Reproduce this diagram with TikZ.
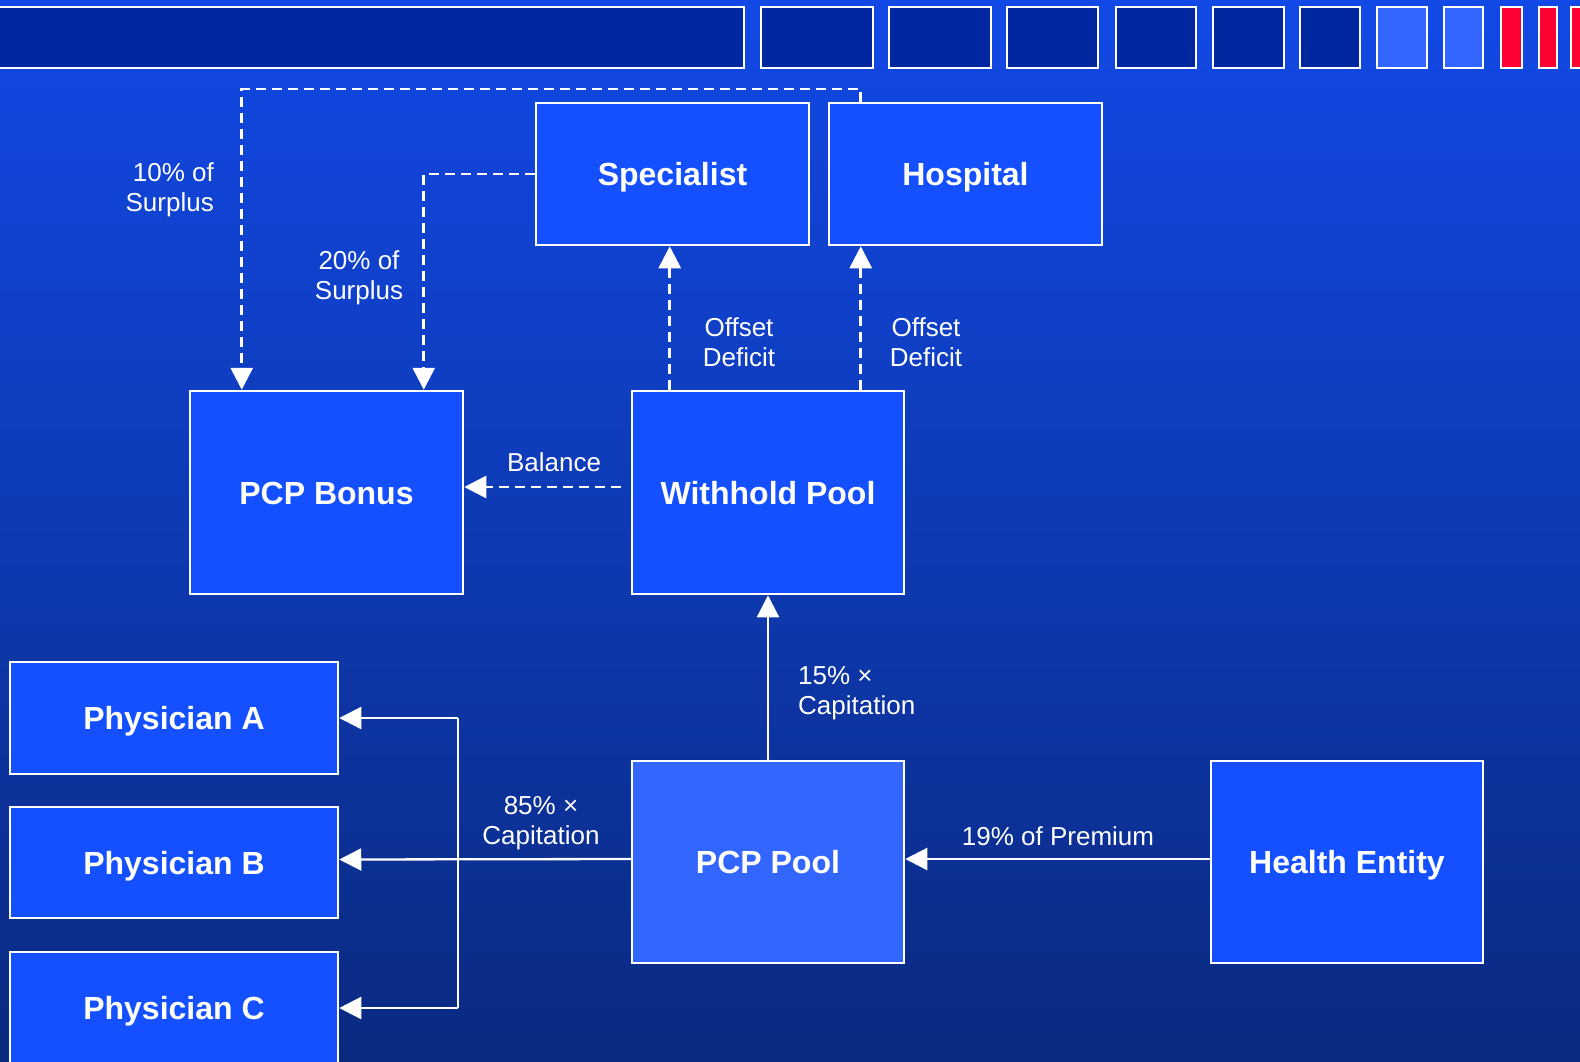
\documentclass[tikz,border=0pt]{standalone}
\usepackage{fontspec}
\setmainfont{Liberation Sans}
\usetikzlibrary{arrows.meta,calc}
\definecolor{bgtop}{RGB}{18,73,230}
\definecolor{bgbot}{RGB}{10,42,128}
\definecolor{boxfill}{RGB}{20,80,255}
\definecolor{poolfill}{RGB}{51,102,255}
\definecolor{bardark}{RGB}{0,38,160}
\definecolor{barlight}{RGB}{51,102,255}
\definecolor{barred}{RGB}{255,0,51}
\tikzset{
  box/.style={draw=white, line width=2.5pt, fill=boxfill, rectangle, inner sep=0pt,
    text=white, text height=23pt, text depth=0pt, font=\fontsize{32}{38}\selectfont\bfseries},
  lbl/.style={text=white, inner sep=0pt, font=\fontsize{26}{30}\selectfont},
  conn/.style={draw=white, line width=2.3pt, -{Triangle[length=22pt,width=22pt]}},
  dconn/.style={conn, line width=2.7pt, dash pattern=on 10pt off 6pt},
  barbox/.style={draw=white, line width=2.5pt},
}
\begin{document}
\begin{tikzpicture}[x=1pt,y=-1pt]
\useasboundingbox (0,0) rectangle (1580,1061);
\shade[top color=bgtop, bottom color=bgbot] (0,0) rectangle (1580,1061);
\begin{scope}
\clip (0,0) rectangle (1580,1061);
% top bar
\draw[barbox, fill=bardark] (-10,7) rectangle (744,68);
\draw[barbox, fill=bardark] (761,7) rectangle (873,68);
\draw[barbox, fill=bardark] (889,7) rectangle (991,68);
\draw[barbox, fill=bardark] (1007,7) rectangle (1098,68);
\draw[barbox, fill=bardark] (1116,7) rectangle (1196,68);
\draw[barbox, fill=bardark] (1213,7) rectangle (1284,68);
\draw[barbox, fill=bardark] (1300,7) rectangle (1360,68);
\draw[barbox, fill=barlight] (1377,7) rectangle (1427,68);
\draw[barbox, fill=barlight] (1444,7) rectangle (1483,68);
\draw[barbox, fill=barred] (1501,7) rectangle (1522,68);
\draw[barbox, fill=barred] (1539,7) rectangle (1557,68);
\draw[barbox, fill=barred] (1571,7) rectangle (1590,68);

% nodes
\node[box, minimum width=273pt, minimum height=142pt] (spec) at (672.5,174) {Specialist};
\node[box, minimum width=273pt, minimum height=142pt] (hosp) at (965.5,174) {Hospital};
\node[box, minimum width=273pt, minimum height=203pt] (bonus) at (326.5,492.5) {PCP Bonus};
\node[box, minimum width=272pt, minimum height=203pt] (with) at (768,492.5) {Withhold Pool};
\node[box, minimum width=328pt, minimum height=112pt] (pa) at (174,718) {Physician A};
\node[box, minimum width=328pt, minimum height=111pt] (pb) at (174,862.5) {Physician B};
\node[box, minimum width=328pt, minimum height=112pt] (pc) at (174,1008) {Physician C};
\node[box, fill=poolfill, minimum width=272pt, minimum height=202pt] (pool) at (768,862) {PCP Pool};
\node[box, minimum width=272pt, minimum height=202pt] (health) at (1347,862) {Health Entity};

% helper coordinates
\coordinate (topy) at (0,89);
\coordinate (h1) at ([xshift=33pt]hosp.north west);
\coordinate (b1) at ([xshift=53pt]bonus.north west);
\coordinate (b2) at ([xshift=235pt]bonus.north west);
\coordinate (w1) at ([xshift=39pt]with.north west);
\coordinate (w2) at ([xshift=230pt]with.north west);
\coordinate (jx) at (458,0);

% dashed connectors
\draw[dconn] (h1) -- (h1 |- topy) -| (b1);
\draw[dconn] (spec.west) -| (b2);
\draw[dconn] (w1) -- (w1 |- spec.south);
\draw[dconn] (w2) -- (w2 |- hosp.south);
\draw[dconn] ([xshift=-10pt,yshift=5.5pt]with.west) -- ([yshift=5.5pt]bonus.east);

% solid connectors
\draw[conn] (pool.north) -- (with.south);
\draw[conn] ([yshift=3pt]health.west) -- ([yshift=3pt]pool.east);
\draw[conn] ([yshift=3pt]pool.west) -- ([yshift=3pt]pb.east);
\draw[draw=white, line width=2.3pt] (pa.east -| jx) -- (pc.east -| jx);
\draw[conn] (pa.east -| jx) -- (pa.east);
\draw[conn] (pc.east -| jx) -- (pc.east);

% labels
\node[lbl, align=right, anchor=east] (l10) at (214,190) {10\% of\\Surplus};
\node[lbl, align=center] (l20) at (359,278) {20\% of\\Surplus};
\node[lbl, align=center] (od1) at (739,342) {Offset\\Deficit};
\node[lbl, align=center] (od2) at (926,342) {Offset\\Deficit};
\node[lbl] (bal) at (554,462) {Balance};
\node[lbl, align=left, anchor=west] (l15) at (798,693) {15\% ×\\Capitation};
\node[lbl, align=center] (l85) at (541,823) {85\% ×\\Capitation};
\node[lbl] (l19) at (1058,836) {19\% of Premium};
\end{scope}
\end{tikzpicture}
\end{document}
